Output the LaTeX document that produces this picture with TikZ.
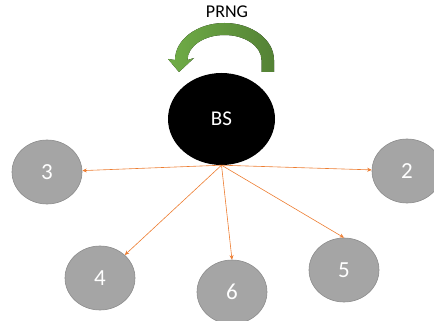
\documentclass[tikz,border=0pt]{standalone}
\usepackage{fontspec}
\setmainfont{Carlito}
\usepackage{tikz}
\usetikzlibrary{shapes.geometric}
\usetikzlibrary{arrows.meta}
\definecolor{nodegray}{HTML}{A5A5A5}
\definecolor{nodeedge}{HTML}{8C8C8C}
\definecolor{linkorange}{HTML}{ED7D31}
\definecolor{prnglight}{HTML}{70AD47}
\definecolor{prngdark}{HTML}{548235}
\tikzset{
  station/.style={ellipse, fill=nodegray, draw=nodeedge, line width=0.6pt, inner sep=0pt,
    minimum width=70pt, minimum height=64pt, text=white, font=\fontsize{23}{26}\selectfont},
  link/.style={linkorange, line width=0.6pt, -{Stealth[length=4.5pt,width=4pt]}}
}
\newcommand{\station}[4]{ \node[station] (#1) at ( #2 , #3 ) {#4};}

\begin{document}
\begin{tikzpicture}[x=1pt,y=-1pt]
        \useasboundingbox (0,0) rectangle (434,321);
        % PRNG arrow
        \fill[left color=prnglight, right color=prngdark]
          (274,72) -- (274,60) arc[start angle=0, end angle=-180, x radius=49.5, y radius=37]
          -- (168,59) -- (179,72) -- (194,58) -- (187.5,60)
          arc[start angle=-180, end angle=0, x radius=37, y radius=25]
          -- (261.5,72) -- cycle;
        \node[font=\fontsize{18}{21}\selectfont] (prng) at (227,12) {PRNG};
        % base station
        \node[ellipse, fill=black, inner sep=0pt, minimum width=107pt, minimum height=92pt,
          text=white, font=\fontsize{21}{24}\selectfont] (bs) at (221.5,119) {BS};
        % stations
        \station{n2}{407}{171}{2}
        \station{n3}{47}{172}{3}
        \station{n4}{100}{278}{4}
        \station{n5}{344}{270}{5}
        \station{n6}{232}{292}{6}
        % links
        \draw[link] (bs.south) -- (n3);
        \draw[link] (bs.south) -- (n2);
        \draw[link] (bs.south) -- (n4);
        \draw[link] (bs.south) -- (n6.north);
        \draw[link] (bs.south) -- (n5.north);
    \end{tikzpicture}
\end{document}
